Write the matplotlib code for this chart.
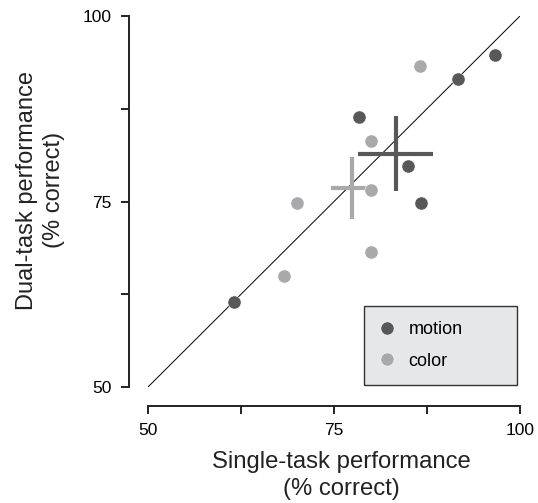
import numpy as np
import matplotlib
matplotlib.use("Agg")
import matplotlib.pyplot as plt

plt.rcParams['font.family'] = ['Liberation Sans', 'DejaVu Sans']

# single-task vs dual-task performance (% correct), one point per observer
motion_single = [96.7, 91.6, 78.3, 84.9, 86.7, 61.6]
motion_dual = [94.8, 91.5, 86.4, 79.8, 74.8, 61.4]
color_single = [86.6, 80.0, 80.0, 70.0, 80.0, 68.3]
color_dual = [93.2, 83.2, 76.5, 74.8, 68.2, 64.9]

ticks = [50, 62.5, 75, 87.5, 100]
tick_labels = ['50', '', '75', '', '100']

dark = '#585858'
light = '#a9a9ab'


def mean_sem(vals):
    vals = np.asarray(vals)
    return vals.mean(), vals.std(ddof=1) / np.sqrt(len(vals))


fig = plt.figure(figsize=(5.38, 5.03), dpi=100)
ax = fig.add_axes([148 / 538, 1 - 387 / 503, 372 / 538, 371 / 503])

# unity line
ax.plot([50, 100], [50, 100], color='black', lw=0.7, zorder=1)

# mean +/- sem crosses
for xs, ys, col in [(motion_single, motion_dual, dark), (color_single, color_dual, light)]:
    mx, sx = mean_sem(xs)
    my, sy = mean_sem(ys)
    ax.plot([mx - sx, mx + sx], [my, my], color=col, lw=3, solid_capstyle='butt', zorder=2)
    ax.plot([mx, mx], [my - sy, my + sy], color=col, lw=3, solid_capstyle='butt', zorder=2)

ax.plot(motion_single, motion_dual, 'o', color=dark, ms=9.5, mec='white', mew=0.4,
        ls='none', label='motion', zorder=3)
ax.plot(color_single, color_dual, 'o', color=light, ms=9.5, mec='white', mew=0.4,
        ls='none', label='color', zorder=3)

ax.set_xlim(50, 100)
ax.set_ylim(50, 100)
ax.set_xticks(ticks)
ax.set_xticklabels(tick_labels)
ax.set_yticks(ticks)
ax.set_yticklabels(tick_labels)

for side in ['top', 'right']:
    ax.spines[side].set_visible(False)
for side in ['left', 'bottom']:
    ax.spines[side].set_position(('outward', 14))
    ax.spines[side].set_linewidth(1.4)
    ax.spines[side].set_color('#222222')
ax.tick_params(length=6, width=1.4, color='#222222', labelsize=12.5, pad=6)

ax.set_xlabel('Single-task performance\n(% correct)', fontsize=17.2, color='#222222',
              labelpad=9, linespacing=1.3)
ax.set_ylabel('Dual-task performance\n(% correct)', fontsize=17, color='#222222',
              labelpad=13, linespacing=1.3)
ax.xaxis.label.set_x(0.52)
ax.yaxis.label.set_y(0.53)

leg = ax.legend(loc='lower left', bbox_to_anchor=(0.581, 0.005, 0.411, 0.238), mode='expand',
                fontsize=13, frameon=True, fancybox=False, borderpad=0.85, labelspacing=0.8,
                handlelength=0.8, handletextpad=0.8, borderaxespad=0)
leg.get_frame().set_facecolor('#e6e7e8')
leg.get_frame().set_edgecolor('#333333')
leg.get_frame().set_linewidth(1.0)
leg.get_frame().set_alpha(1)

fig.savefig('out.png', dpi=100)
